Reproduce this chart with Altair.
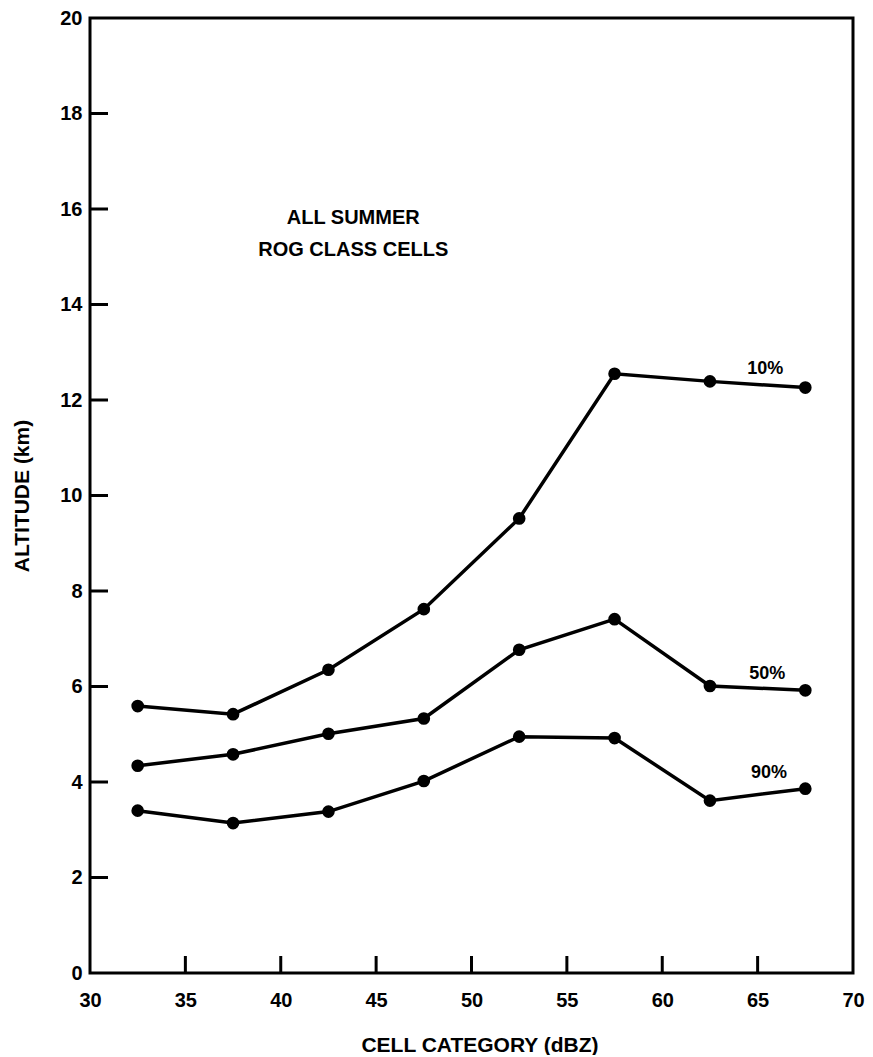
import altair as alt
import pandas as pd

categories = [32.5, 37.5, 42.5, 47.5, 52.5, 57.5, 62.5, 67.5]
p10 = [5.59, 5.42, 6.35, 7.62, 9.52, 12.55, 12.39, 12.26]
p50 = [4.34, 4.58, 5.01, 5.33, 6.77, 7.41, 6.01, 5.92]
p90 = [3.40, 3.14, 3.38, 4.02, 4.95, 4.92, 3.61, 3.86]

series_labels = ["10%", "50%", "90%"]
label_x = [65.4, 65.5, 65.6]
label_y = [12.64, 6.26, 4.19]

note_lines = ["ALL SUMMER", "ROG CLASS CELLS"]
note_x = [43.8, 43.8]
note_y = [15.81, 15.14]

x_ticks = [30, 35, 40, 45, 50, 55, 60, 65, 70]
y_ticks = [0, 2, 4, 6, 8, 10, 12, 14, 16, 18, 20]

rows = []
for name, vals in zip(series_labels, [p10, p50, p90]):
    for c, v in zip(categories, vals):
        rows.append({"cat": c, "alt": v, "series": name})
df = pd.DataFrame(rows)
lab_df = pd.DataFrame({"x": label_x, "y": label_y, "t": series_labels})
note_df = pd.DataFrame({"x": note_x, "y": note_y, "t": note_lines})
xt_df = pd.DataFrame({"v": x_ticks[1:-1]})
yt_df = pd.DataFrame({"v": y_ticks[1:-1]})

FONT = "Liberation Sans"
W = 763
H = 955
xscale = alt.Scale(domain=[30, 70], nice=False, zero=False)
yscale = alt.Scale(domain=[0, 20], nice=False)

xenc = alt.X("cat:Q", scale=xscale, title="CELL CATEGORY (dBZ)",
             axis=alt.Axis(values=x_ticks, ticks=False, domain=False, grid=False,
                           labelFlush=False, labelOverlap=False,
                           labelFont=FONT, labelFontSize=20, labelFontWeight="bold",
                           labelColor="black", labelPadding=17,
                           titleFont=FONT, titleFontSize=21, titleFontWeight="bold",
                           titleColor="black", titlePadding=24, titleX=W / 2 + 8))
yenc = alt.Y("alt:Q", scale=yscale, title="ALTITUDE (km)",
             axis=alt.Axis(values=y_ticks, ticks=False, domain=False, grid=False,
                           labelFlush=False, labelOverlap=False,
                           labelFont=FONT, labelFontSize=20, labelFontWeight="bold",
                           labelColor="black", labelPadding=8,
                           titleFont=FONT, titleFontSize=21, titleFontWeight="bold",
                           titleColor="black", titlePadding=27))

base = alt.Chart(df)
lines = base.mark_line(color="black", strokeWidth=3.5).encode(x=xenc, y=yenc, detail="series:N")
points = base.mark_circle(color="black", size=160, opacity=1).encode(
    x="cat:Q", y="alt:Q")

labels = alt.Chart(lab_df).mark_text(font=FONT, fontSize=18, fontWeight="bold",
                                     color="black", align="center", baseline="middle").encode(
    x=alt.X("x:Q", scale=xscale), y=alt.Y("y:Q", scale=yscale), text="t:N")
notes = alt.Chart(note_df).mark_text(font=FONT, fontSize=20, fontWeight="bold",
                                     color="black", align="center", baseline="middle").encode(
    x=alt.X("x:Q", scale=xscale), y=alt.Y("y:Q", scale=yscale), text="t:N")

xticks = alt.Chart(xt_df).mark_rule(color="black", strokeWidth=3).encode(
    x=alt.X("v:Q", scale=xscale), y=alt.value(H), y2=alt.value(H - 17))
yticks = alt.Chart(yt_df).mark_rule(color="black", strokeWidth=3).encode(
    y=alt.Y("v:Q", scale=yscale), x=alt.value(0), x2=alt.value(18))

chart = alt.layer(xticks, yticks, lines, points, labels, notes).properties(
    width=W, height=H,
    autosize=alt.AutoSizeParams(type="none"),
    padding={"left": 82, "top": 10, "right": 12, "bottom": 82},
    background="white",
).configure_view(stroke="black", strokeWidth=3)

chart.save("out.html", embed_options={"renderer": "svg", "actions": False})
